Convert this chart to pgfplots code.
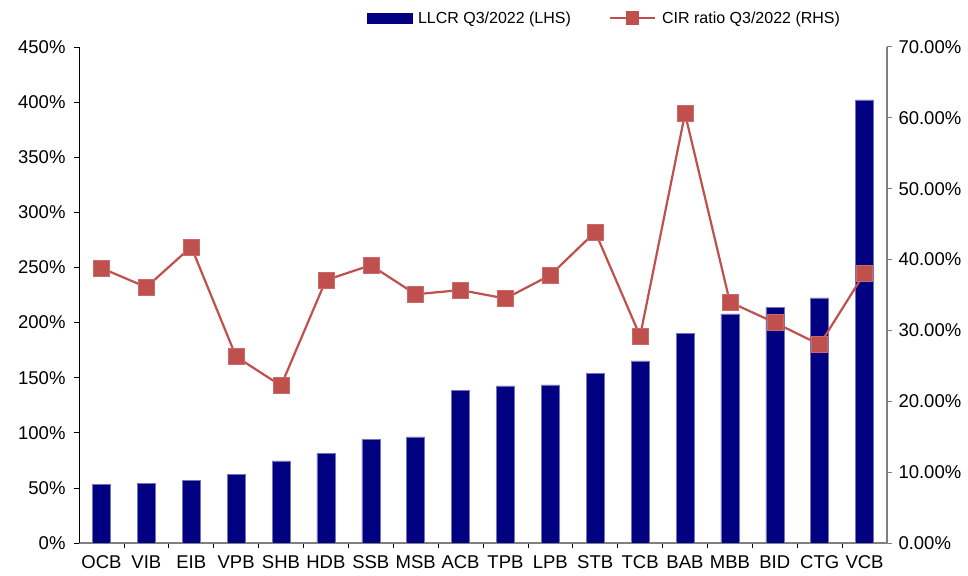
\documentclass[border=0pt]{standalone}
\usepackage{fontspec}
\setmainfont{Liberation Sans}
\usepackage{pgfplots}
\pgfplotsset{compat=1.18}
\usetikzlibrary{calc}
\definecolor{barblue}{HTML}{000080}
\definecolor{cirred}{HTML}{C0504D}
\definecolor{axgray}{HTML}{808080}
\newcommand{\lf}{\fontsize{16bp}{19bp}\selectfont}
\newcommand{\tf}{\fontsize{18.5bp}{21bp}\selectfont}
\begin{document}
\begin{tikzpicture}
\begin{axis}[name=ax1, scale only axis, width=808bp, height=496bp,
  xmin=-0.5, xmax=17.5, ymin=0, ymax=450,
  axis x line*=bottom, axis y line*=left,
  x axis line style={-, axgray, line width=1.3pt},
  y axis line style={-, black, line width=0.6pt},
  xtick={0,...,17},
  xticklabels={OCB,VIB,EIB,VPB,SHB,HDB,SSB,MSB,ACB,TPB,LPB,STB,TCB,BAB,MBB,BID,CTG,VCB},
  major x tick style={draw=none},
  minor xtick={0.5,1.5,...,16.5},
  minor x tick style={black, line width=0.6pt},
  minor tick length=5bp,
  major tick length=5bp,
  tick align=outside,
  ytick={0,50,...,450},
  y tick style={black, line width=0.6pt},
  yticklabel={\pgfmathprintnumber{\tick}\%},
  /pgf/number format/assume math mode=true,
  tick label style={font=\tf},
  xticklabel style={yshift=-4bp},
  yticklabel style={xshift=-5bp},
]
\addplot[ybar, bar width=18bp, fill=barblue, draw=barblue!55!white, line width=0.4pt]
coordinates {(0,53.0) (1,54.4) (2,56.9) (3,62.3) (4,74.4) (5,81.4) (6,94.1) (7,96.2) (8,138.2) (9,142.5) (10,143.4) (11,154.0) (12,165.2) (13,190.3) (14,207.8) (15,213.9) (16,222.3) (17,402.0)};
\end{axis}
\begin{axis}[scale only axis, width=808bp, height=496bp,
  xmin=-0.5, xmax=17.5, ymin=0, ymax=70,
  axis y line*=right, axis x line=none,
  y axis line style={-, axgray, line width=1.3pt},
  ytick={0,10,...,70},
  y tick style={axgray, line width=1pt},
  major tick length=5bp,
  tick align=outside,
  yticklabel={\pgfmathprintnumber[fixed,fixed zerofill,precision=2]{\tick}\%},
  /pgf/number format/assume math mode=true,
  tick label style={font=\tf},
  yticklabel style={xshift=3bp},
  legend columns=2,
  legend cell align=left,
  legend style={draw=none, fill=none, font=\lf, at={(axis description cs:0.352,1.058)}, anchor=west,
    /tikz/every even column/.append style={column sep=36bp}},
]
\addlegendimage{legend image code/.code={\fill[barblue] (0bp,-5bp) rectangle (45bp,5bp); \path (49bp,0bp);}}
\addlegendentry{LLCR Q3/2022 (LHS)}
\addplot[cirred, line width=2.2bp, mark=square*, mark size=8bp,
  mark options={fill=cirred, draw=cirred!85!white, line width=0.5pt},
  legend image code/.code={\draw[cirred, line width=2.2bp] (0bp,0bp)--(45bp,0bp); \fill[cirred] (17bp,-6bp) rectangle (28bp,6bp); \path (49bp,0bp);}]
coordinates {(0,38.8) (1,36.1) (2,41.8) (3,26.3) (4,22.2) (5,37.1) (6,39.2) (7,35.1) (8,35.7) (9,34.5) (10,37.8) (11,43.9) (12,29.2) (13,60.6) (14,34.0) (15,31.1) (16,28.0) (17,38.1)};
\addlegendentry{CIR ratio Q3/2022 (RHS)}
\end{axis}
\pgfresetboundingbox
\path ($(ax1.south west)+(-79bp,-33bp)$) rectangle ($(ax1.north east)+(81bp,47bp)$);
\end{tikzpicture}
\end{document}
